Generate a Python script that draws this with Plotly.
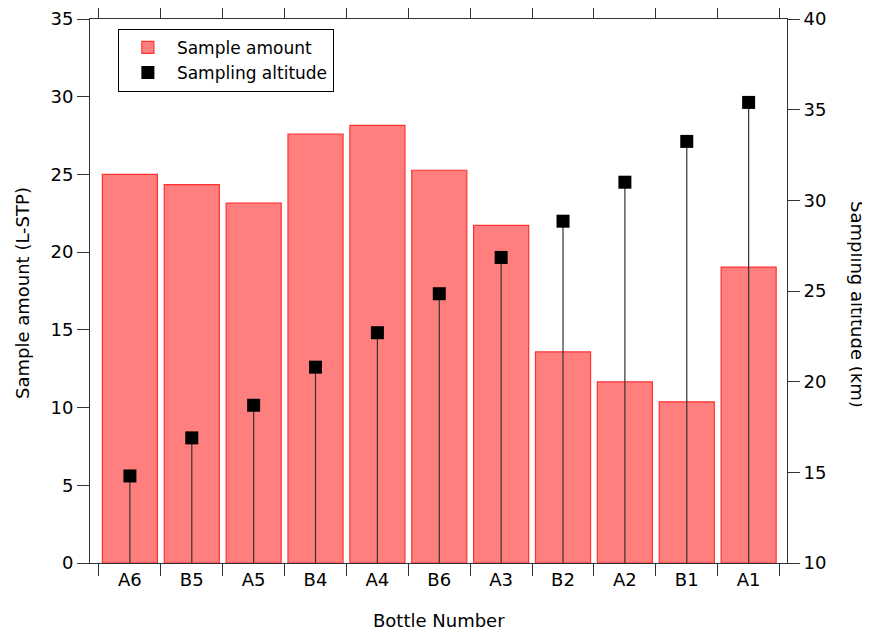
import plotly.graph_objects as go

bottles = ["A6", "B5", "A5", "B4", "A4", "B6", "A3", "B2", "A2", "B1", "A1"]
sample_amount = [25.0, 24.35, 23.15, 27.6, 28.15, 25.27, 21.72, 13.58, 11.65, 10.37, 19.04]
sampling_altitude = [14.8, 16.9, 18.7, 20.8, 22.7, 24.85, 26.85, 28.85, 31.0, 33.25, 35.4]
left_ticks = [0, 5, 10, 15, 20, 25, 30, 35]
right_ticks = [10, 15, 20, 25, 30, 35, 40]

FONT = "DejaVu Sans"
AX = "#333333"
TICK_SIZE = 18
TITLE_SIZE = 18

fig = go.Figure()
fig.add_trace(go.Bar(
    x=bottles, y=sample_amount, name="Sample amount",
    marker=dict(color="rgb(255,127,127)", line=dict(color="rgb(255,50,50)", width=1.2)),
    yaxis="y",
))
fig.add_trace(go.Scatter(
    x=bottles, y=sampling_altitude, name="Sampling altitude", mode="markers",
    marker=dict(symbol="square", size=13, color="black"),
    error_y=dict(type="data", symmetric=False, array=[0] * len(bottles),
                 arrayminus=[v - 10 for v in sampling_altitude],
                 width=0, thickness=1.2, color="#333333"),
    yaxis="y2",
))

# page body has an 8px margin: figure shrunk and margins compensated
fig.update_layout(
    width=862, height=625,
    margin=dict(l=82, r=83, t=11, b=70, autoexpand=False),
    paper_bgcolor="white", plot_bgcolor="white",
    font=dict(family=FONT, size=16, color="black"),
    bargap=0.11,
    showlegend=True,
    legend=dict(x=0.04, y=0.982, xanchor="left", yanchor="top",
                bgcolor="white", bordercolor="black", borderwidth=1,
                itemwidth=48,
                font=dict(size=17, family=FONT), tracegroupgap=0),
    xaxis=dict(
        type="category", range=[-0.645, 10.62], automargin=False,
        showline=True, linecolor=AX, linewidth=1, mirror="ticks",
        ticks="outside", ticklen=12, tickcolor=AX, tickson="boundaries",
        showgrid=False, zeroline=False,
        tickfont=dict(size=TICK_SIZE),
    ),
    yaxis=dict(
        range=[0, 35], tickvals=left_ticks, automargin=False,
        showline=True, linecolor=AX, linewidth=1,
        ticks="outside", ticklen=12, tickcolor=AX,
        showgrid=False, zeroline=False,
        tickfont=dict(size=TICK_SIZE),
    ),
    yaxis2=dict(
        range=[10, 40], tickvals=right_ticks, overlaying="y", side="right",
        automargin=False,
        showline=True, linecolor=AX, linewidth=1,
        ticks="outside", ticklen=12, tickcolor=AX,
        showgrid=False, zeroline=False,
        tickfont=dict(size=TICK_SIZE),
    ),
    annotations=[
        dict(text="Bottle Number", xref="paper", yref="paper", x=0.5, y=0,
             yshift=-57, xanchor="center", yanchor="middle", showarrow=False,
             font=dict(size=TITLE_SIZE, family=FONT)),
        dict(text="Sample amount (L-STP)", textangle=-90, xref="paper", yref="paper",
             x=0, y=0.5, xshift=-68, yshift=-2, xanchor="center", yanchor="middle",
             showarrow=False, font=dict(size=TITLE_SIZE, family=FONT)),
        dict(text="Sampling altitude (km)", textangle=90, xref="paper", yref="paper",
             x=1, y=0.5, xshift=71, yshift=-13, xanchor="center", yanchor="middle",
             showarrow=False, font=dict(size=TITLE_SIZE, family=FONT)),
    ],
)

fig.write_html("out.html")
